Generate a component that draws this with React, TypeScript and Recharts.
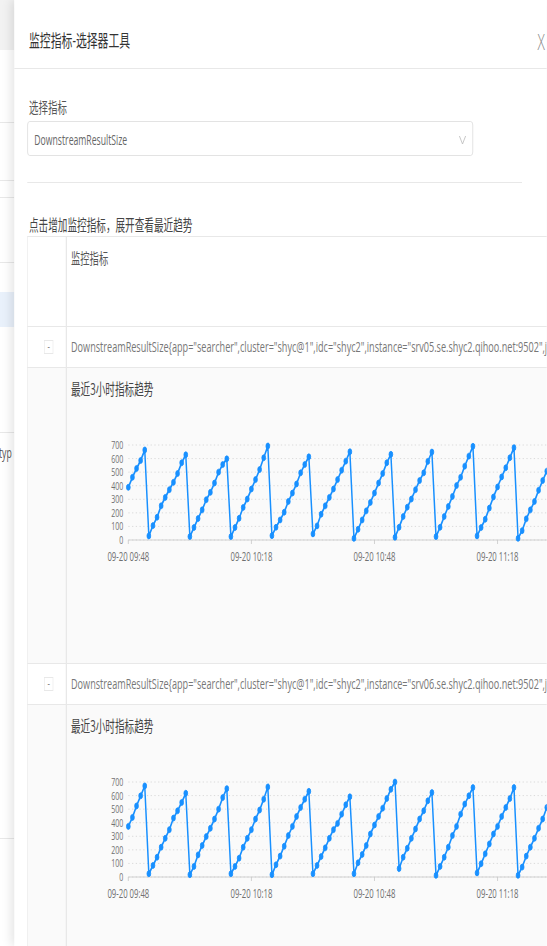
import React from "react";
import { LineChart, Line, XAxis, YAxis, CartesianGrid } from "recharts";

// the reference screenshot is squeezed horizontally, so lay out wide and scale x back down
const S = 0.62;
const ux = (px: number) => px / S;

// only the ticks that fall inside the visible part of the 3h window
const TICK_MINUTES = [0, 30, 60, 90];
const TICK_LABELS = ["09-20 09:48", "09-20 10:18", "09-20 10:48", "09-20 11:18"];
const Y_TICKS = [0, 100, 200, 300, 400, 500, 600, 700];

// one value per minute from 09:48
const SRV05 = [
  388, 462, 527, 586, 663,
  30, 106, 168, 252, 314, 371, 425, 490, 569, 628,
  25, 92, 158, 222, 297, 351, 420, 500, 556, 598,
  25, 92, 160, 240, 302, 376, 445, 519, 606, 692,
  32, 94, 148, 205, 284, 346, 413, 495, 556, 613,
  45, 104, 190, 252, 314, 376, 445, 514, 581, 650,
  12, 79, 148, 215, 277, 346, 420, 490, 569, 631,
  20, 94, 173, 242, 302, 371, 438, 495, 579, 648,
  25, 94, 173, 247, 321, 401, 462, 544, 618, 690,
  30, 92, 153, 235, 317, 391, 465, 532, 606, 680,
  12, 69, 156, 222, 284, 366, 438, 507,
];

const SRV06 = [
  373, 439, 524, 598, 671,
  24, 85, 146, 220, 285, 349, 434, 488, 549, 617,
  17, 78, 163, 232, 298, 359, 427, 500, 585, 651,
  24, 78, 139, 220, 285, 349, 427, 493, 573, 663,
  17, 90, 154, 227, 305, 373, 446, 512, 573, 631,
  24, 85, 151, 215, 285, 349, 395, 463, 532, 591,
  24, 105, 166, 232, 317, 383, 446, 507, 578, 646, 700,
  62, 146, 212, 285, 354, 427, 488, 561, 622,
  12, 78, 146, 220, 305, 373, 463, 537, 598, 659,
  30, 98, 171, 244, 317, 373, 446, 512, 578, 659,
  12, 73, 154, 220, 285, 359, 427, 512,
];

const ROW_05 = 'DownstreamResultSize{app="searcher",cluster="shyc@1",idc="shyc2",instance="srv05.se.shyc2.qihoo.net:9502",j';
const ROW_06 = 'DownstreamResultSize{app="searcher",cluster="shyc@1",idc="shyc2",instance="srv06.se.shyc2.qihoo.net:9502",j';

const BORDER = "#e8e8e8";

function Txt({ x, y, size, color = "#555", children, weight }: { x: number; y: number; size: number; color?: string; children: React.ReactNode; weight?: number }) {
  return (
    <div style={{ position: "absolute", left: ux(x), top: y - size, height: size * 2, lineHeight: `${size * 2}px`, fontSize: size, color, whiteSpace: "nowrap", fontWeight: weight }}>
      {children}
    </div>
  );
}

function HLine({ y, x1, x2, color = BORDER }: { y: number; x1: number; x2: number; color?: string }) {
  return <div style={{ position: "absolute", left: ux(x1), width: ux(x2) - ux(x1), top: y, height: 1, background: color }} />;
}

function VLine({ x, y1, y2, color = BORDER }: { x: number; y1: number; y2: number; color?: string }) {
  return <div style={{ position: "absolute", left: ux(x), width: 1.5, top: y1, height: y2 - y1, background: color }} />;
}

function Trend({ values, top }: { values: number[]; top: number }) {
  const data = values.map((v, i) => ({ t: i, v }));
  return (
    <div style={{ position: "absolute", left: ux(128.33) - 60, top: top - 5 }}>
      <LineChart width={1261} height={135} data={data} margin={{ top: 10, right: 10, left: 0, bottom: 0 }}>
        <CartesianGrid vertical={false} stroke="#d3d3d3" strokeDasharray="2 4" />
        <XAxis
          dataKey="t"
          type="number"
          domain={[0, 180]}
          ticks={TICK_MINUTES}
          interval={0}
          tickFormatter={(m) => TICK_LABELS[TICK_MINUTES.indexOf(m)]}
          height={30}
          tickSize={4}
          tickMargin={8}
          axisLine={{ stroke: "#c8c8c8" }}
          tickLine={{ stroke: "#c8c8c8" }}
          tick={{ fill: "#707070", fontSize: 12.5 }}
        />
        <YAxis domain={[0, 700]} ticks={Y_TICKS} interval={0} width={60} axisLine={false} tickLine={false} tick={{ fill: "#707070", fontSize: 11.3 }} />
        <Line
          type="linear"
          dataKey="v"
          stroke="#1890ff"
          strokeWidth={2.4}
          dot={{ r: 3, fill: "#1890ff", stroke: "#1890ff", strokeWidth: 1 }}
          isAnimationActive={false}
        />
      </LineChart>
    </div>
  );
}

function ExpandBtn({ y }: { y: number }) {
  return (
    <div style={{ position: "absolute", left: ux(44), top: y - 7, width: 15, height: 14, border: `1px solid ${BORDER}`, background: "#fff", boxSizing: "border-box", fontSize: 12, lineHeight: "12px", textAlign: "center", color: "#888" }}>
      -
    </div>
  );
}

function MetricBlock({ top, label, values }: { top: number; label: string; values: number[] }) {
  return (
    <>
      <div style={{ position: "absolute", left: ux(27), top: top + 41, width: ux(547) - ux(27), height: 296, background: "#fafafa" }} />
      <HLine y={top} x1={27} x2={547} />
      <HLine y={top + 41} x1={27} x2={547} />
      <ExpandBtn y={top + 21} />
      <Txt x={71} y={top + 21} size={14.7} color="#777">{label}</Txt>
      <Txt x={71} y={top + 64} size={15.5} color="#444">最近3小时指标趋势</Txt>
      <Trend values={values} top={top + 114.3} />
    </>
  );
}

export default function App() {
  return (
    <div style={{ position: "absolute", left: 0, top: 0, width: 547, height: 946, overflow: "hidden", background: "#fff" }}>
      <div
        style={{
          position: "absolute",
          left: 0,
          top: 0,
          width: ux(547),
          height: 946,
          overflow: "hidden",
          transform: `scaleX(${S})`,
          transformOrigin: "0 0",
          fontFamily: '"Open Sans", "Noto Sans CJK SC", sans-serif',
        }}
      >
        {/* page behind the drawer */}
        <div style={{ position: "absolute", left: 0, top: 0, width: ux(14), height: 50, background: "#f2f2f2" }} />
        <HLine y={122} x1={0} x2={14} />
        <HLine y={180} x1={0} x2={14} />
        <HLine y={197} x1={0} x2={14} />
        <HLine y={262} x1={0} x2={14} />
        <div style={{ position: "absolute", left: 0, top: 292, width: ux(14), height: 35, background: "#e9f1fb" }} />
        <HLine y={432} x1={0} x2={14} />
        <Txt x={-1} y={453} size={14} color="#555">typ</Txt>
        <HLine y={838} x1={0} x2={14} />

        {/* drawer */}
        <div style={{ position: "absolute", left: ux(14), top: 0, width: ux(547) - ux(14), height: 946, background: "#fff", boxShadow: "-5px 0 12px rgba(0,0,0,0.10)" }} />
        <Txt x={29} y={40} size={17.5} color="#333">监控指标-选择器工具</Txt>
        <Txt x={537.5} y={41} size={22} color="#888" weight={300}>X</Txt>
        <HLine y={68} x1={14} x2={547} />

        <Txt x={29} y={107} size={15.3} color="#555">选择指标</Txt>
        <div style={{ position: "absolute", left: ux(27), top: 121, width: ux(473) - ux(27), height: 35, border: "1px solid #dcdcdc", borderRadius: 4, boxSizing: "border-box", background: "#fff" }} />
        <Txt x={34.3} y={140} size={14} color="#666">DownstreamResultSize</Txt>
        <svg style={{ position: "absolute", left: ux(459), top: 135 }} width={12} height={10}>
          <polyline points="1,1 6,9 11,1" fill="none" stroke="#bbb" strokeWidth={1} />
        </svg>
        <HLine y={182} x1={27} x2={522} />

        <Txt x={29} y={225} size={15.5} color="#444">点击增加监控指标，展开查看最近趋势</Txt>

        {/* table */}
        <HLine y={236} x1={27} x2={547} />
        <Txt x={71} y={258} size={15} color="#555">监控指标</Txt>
        <MetricBlock top={325.5} label={ROW_05} values={SRV05} />
        <MetricBlock top={662.5} label={ROW_06} values={SRV06} />
        <VLine x={27} y1={236} y2={946} />
        <VLine x={66} y1={236} y2={946} />
      </div>
    </div>
  );
}
